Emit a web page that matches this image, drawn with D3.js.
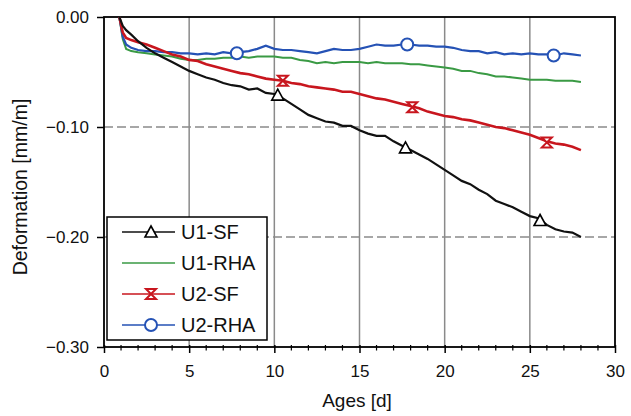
<!DOCTYPE html>
<html><head><meta charset="utf-8">
<script src="https://cdn.jsdelivr.net/npm/d3@7"></script>
<style>body{margin:0;background:#fff}svg{display:block}</style>
</head><body>
<script>
const ages = [0.9,1.1,1.3,1.6,2.0,2.5,3.0,3.5,4.0,4.5,5.0,5.5,6.0,6.5,7.0,7.5,8.0,8.5,9.0,9.5,10.0,10.5,11.0,11.5,12.0,12.5,13.0,13.5,14.0,14.5,15.0,15.5,16.0,16.5,17.0,17.5,18.0,18.5,19.0,19.5,20.0,20.5,21.0,21.5,22.0,22.5,23.0,23.5,24.0,24.5,25.0,25.5,26.0,26.5,27.0,27.5,28.0];
const u1sf = [0,-0.008,-0.012,-0.016,-0.022,-0.028,-0.033,-0.037,-0.041,-0.045,-0.049,-0.052,-0.055,-0.057,-0.060,-0.062,-0.063,-0.066,-0.065,-0.069,-0.070,-0.074,-0.079,-0.084,-0.089,-0.092,-0.095,-0.096,-0.099,-0.099,-0.103,-0.106,-0.108,-0.108,-0.113,-0.117,-0.121,-0.125,-0.129,-0.134,-0.139,-0.144,-0.149,-0.152,-0.157,-0.161,-0.167,-0.170,-0.173,-0.177,-0.181,-0.183,-0.189,-0.193,-0.195,-0.196,-0.200];
const u1rha = [0,-0.020,-0.029,-0.031,-0.032,-0.033,-0.034,-0.035,-0.036,-0.038,-0.039,-0.039,-0.038,-0.038,-0.037,-0.037,-0.036,-0.037,-0.036,-0.036,-0.036,-0.037,-0.037,-0.039,-0.040,-0.042,-0.041,-0.042,-0.041,-0.041,-0.041,-0.042,-0.041,-0.042,-0.042,-0.042,-0.043,-0.043,-0.044,-0.045,-0.046,-0.047,-0.049,-0.049,-0.051,-0.052,-0.054,-0.054,-0.055,-0.056,-0.057,-0.057,-0.057,-0.058,-0.058,-0.058,-0.059];
const u2sf = [0,-0.014,-0.019,-0.021,-0.023,-0.025,-0.028,-0.031,-0.034,-0.036,-0.039,-0.040,-0.043,-0.045,-0.047,-0.049,-0.051,-0.052,-0.054,-0.056,-0.057,-0.058,-0.060,-0.061,-0.063,-0.064,-0.065,-0.066,-0.068,-0.068,-0.070,-0.072,-0.074,-0.075,-0.077,-0.079,-0.081,-0.083,-0.086,-0.088,-0.090,-0.091,-0.093,-0.094,-0.096,-0.098,-0.100,-0.101,-0.103,-0.105,-0.107,-0.110,-0.113,-0.115,-0.116,-0.118,-0.121];
const u2rha = [0,-0.018,-0.025,-0.028,-0.030,-0.031,-0.031,-0.032,-0.032,-0.033,-0.033,-0.034,-0.033,-0.034,-0.032,-0.033,-0.032,-0.031,-0.029,-0.026,-0.029,-0.030,-0.030,-0.031,-0.032,-0.033,-0.031,-0.029,-0.030,-0.030,-0.029,-0.027,-0.025,-0.026,-0.026,-0.025,-0.025,-0.026,-0.026,-0.027,-0.027,-0.028,-0.030,-0.031,-0.031,-0.033,-0.032,-0.034,-0.033,-0.034,-0.033,-0.034,-0.034,-0.035,-0.033,-0.034,-0.035];

const mkU1sfX = [10.2,17.7,25.6], mkU1sfY = [-0.071,-0.119,-0.185];
const mkU2sfX = [10.5,18.1,26.0], mkU2sfY = [-0.058,-0.082,-0.114];
const mkU2rhaX = [7.8,17.8,26.4], mkU2rhaY = [-0.033,-0.025,-0.035];

const xTicks = [0,5,10,15,20,25,30];
const yTicks = [0,-0.10,-0.20,-0.30];
const seriesNames = ["U1-SF","U1-RHA","U2-SF","U2-RHA"];

const W=631,H=416;
const m={l:104,t:17,r:16,b:69};
const svg=d3.select("body").append("svg").attr("width",W).attr("height",H);
const x=d3.scaleLinear().domain([0,30]).range([m.l,W-m.r]);
const y=d3.scaleLinear().domain([-0.30,0]).range([H-m.b,m.t]);
const font="'Liberation Sans', Arial, sans-serif";

// grid
svg.append("g").selectAll("line").data(xTicks.slice(1,-1)).join("line")
 .attr("x1",d=>x(d)).attr("x2",d=>x(d)).attr("y1",y(0)).attr("y2",y(-0.30))
 .attr("stroke","#8a8a8a").attr("stroke-width",1.5);
svg.append("g").selectAll("line").data([-0.10,-0.20]).join("line")
 .attr("x1",x(0)).attr("x2",x(30)).attr("y1",d=>y(d)).attr("y2",d=>y(d))
 .attr("stroke","#8a8a8a").attr("stroke-width",1.3).attr("stroke-dasharray","9,4");

// axes
const xAxis=d3.axisBottom(x).tickValues(xTicks).tickSize(6).tickPadding(12).tickFormat(d3.format("d"));
const gx=svg.append("g").attr("transform",`translate(0,${y(-0.30)})`).call(xAxis);
gx.select(".domain").remove();
gx.selectAll("text").attr("font-family",font).attr("font-size",17).attr("fill","#111");
gx.selectAll(".tick line").attr("stroke","#000").attr("stroke-width",1.5).attr("y1",-2);
svg.append("g").selectAll("line").data(d3.range(0,31).filter(d=>d%5!==0)).join("line")
 .attr("x1",d=>x(d)).attr("x2",d=>x(d)).attr("y1",y(-0.30)-2).attr("y2",y(-0.30)+3.5)
 .attr("stroke","#000").attr("stroke-width",1.2);

const yAxis=d3.axisLeft(y).tickValues(yTicks).tickSize(7).tickPadding(8).tickFormat(d3.format(".2f"));
const gy=svg.append("g").attr("transform",`translate(${x(0)},0)`).call(yAxis);
gy.select(".domain").remove();
gy.selectAll("text").attr("font-family",font).attr("font-size",17).attr("fill","#111");
gy.selectAll(".tick line").attr("stroke","#000").attr("stroke-width",1.5);

// frame
svg.append("rect").attr("x",x(0)).attr("y",y(0)).attr("width",x(30)-x(0)).attr("height",y(-0.30)-y(0))
 .attr("fill","none").attr("stroke","#000").attr("stroke-width",1.8);

// series
const line=d3.line().x((d,i)=>x(ages[i])).y(d=>y(d));
const cols={u1sf:"#111111",u1rha:"#3a9a44",u2sf:"#c8161e",u2rha:"#2552b5"};
const plot=svg.append("g");
plot.append("path").datum(u1rha).attr("d",line).attr("fill","none").attr("stroke",cols.u1rha).attr("stroke-width",2);
plot.append("path").datum(u2rha).attr("d",line).attr("fill","none").attr("stroke",cols.u2rha).attr("stroke-width",2.2);
plot.append("path").datum(u2sf).attr("d",line).attr("fill","none").attr("stroke",cols.u2sf).attr("stroke-width",2.6);
plot.append("path").datum(u1sf).attr("d",line).attr("fill","none").attr("stroke",cols.u1sf).attr("stroke-width",2.2);

function tri(g,cx,cy){g.append("path").attr("d",`M${cx},${cy-6}L${cx+6},${cy+5}L${cx-6},${cy+5}Z`).attr("fill","#fff").attr("stroke","#000").attr("stroke-width",1.6);}
function bow(g,cx,cy){g.append("path").attr("d",`M${cx-5},${cy-5}L${cx+5},${cy-5}L${cx-5},${cy+5}L${cx+5},${cy+5}Z`).attr("fill","#fff").attr("stroke",cols.u2sf).attr("stroke-width",2);}
function circ(g,cx,cy){g.append("circle").attr("cx",cx).attr("cy",cy).attr("r",6).attr("fill","#fff").attr("stroke",cols.u2rha).attr("stroke-width",2);}
mkU1sfX.forEach((d,i)=>tri(plot,x(d),y(mkU1sfY[i])));
mkU2sfX.forEach((d,i)=>bow(plot,x(d),y(mkU2sfY[i])));
mkU2rhaX.forEach((d,i)=>circ(plot,x(d),y(mkU2rhaY[i])));

// legend
const lg=svg.append("g");
lg.append("rect").attr("x",107).attr("y",217).attr("width",160).attr("height",123).attr("fill","#fff").attr("stroke","#000").attr("stroke-width",1.5);
const lcols=[cols.u1sf,cols.u1rha,cols.u2sf,cols.u2rha];
const lmk=[tri,null,bow,circ];
seriesNames.forEach((n,i)=>{
  const yy=232+i*31;
  lg.append("line").attr("x1",122).attr("x2",175).attr("y1",yy).attr("y2",yy).attr("stroke",lcols[i]).attr("stroke-width",1.5);
  if(lmk[i]) lmk[i](lg,151,yy);
  lg.append("text").attr("x",181).attr("y",yy+7).attr("font-family",font).attr("font-size",20).attr("fill","#111").text(n);
});

// titles
svg.append("text").attr("x",357).attr("y",407).attr("text-anchor","middle").attr("font-family",font).attr("font-size",19).attr("fill","#111").text("Ages [d]");
svg.append("text").attr("transform",`translate(27,187) rotate(-90)`).attr("text-anchor","middle").attr("font-family",font).attr("font-size",19.5).attr("fill","#111").text("Deformation [mm/m]");
</script>
</body></html>
